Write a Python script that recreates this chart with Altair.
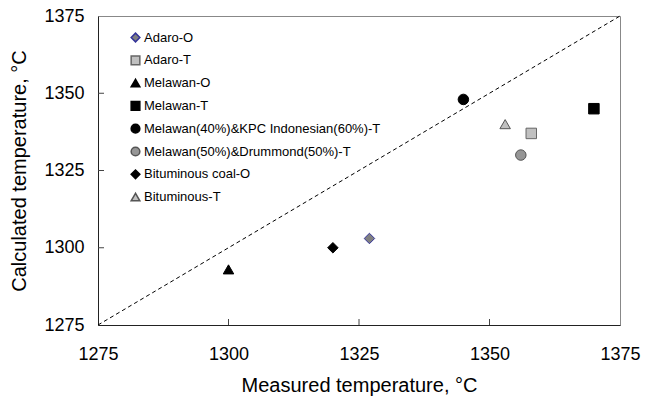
import altair as alt
import pandas as pd

series = [
    "Adaro-O",
    "Adaro-T",
    "Melawan-O",
    "Melawan-T",
    "Melawan(40%)&KPC Indonesian(60%)-T",
    "Melawan(50%)&Drummond(50%)-T",
    "Bituminous coal-O",
    "Bituminous-T",
]
measured = [1327, 1358, 1300, 1370, 1345, 1356, 1320, 1353]
calculated = [1303, 1337, 1293, 1345, 1348, 1330, 1300, 1340]

shapes = ["diamond", "square", "triangle-up", "square", "circle", "circle", "diamond", "triangle-up"]
fills = ["#808080", "#C0C0C0", "#000000", "#000000", "#000000", "#969696", "#000000", "#C0C0C0"]
strokes = ["#333399", "#666666", "#000000", "#000000", "#000000", "#555555", "#000000", "#555555"]

ticks = [1275, 1300, 1325, 1350, 1375]
inner_ticks = [1300, 1325, 1350]
diag = [1275, 1375]

df = pd.DataFrame({"series": series, "measured": measured, "calculated": calculated})
diag_df = pd.DataFrame({"x": diag, "y": diag})
tick_df = pd.DataFrame({"v": inner_ticks})

W, H = 522, 309
FONT = "Liberation Sans"

xscale = alt.Scale(domain=[1275, 1375], nice=False, zero=False)
yscale = alt.Scale(domain=[1275, 1375], nice=False, zero=False)

xaxis = alt.Axis(values=ticks, format="d", title="Measured temperature, °C", tickSize=0,
                 labelPadding=20, titlePadding=12, grid=False, labelFlush=False,
                 labelFont=FONT, labelFontSize=18, titleFont=FONT, titleFontSize=20,
                 titleFontWeight="normal", labelColor="#000", titleColor="#000",
                 domainColor="#222")
yaxis = alt.Axis(values=ticks, format="d", title="Calculated temperature, °C", tickSize=0,
                 labelPadding=14, titlePadding=14, grid=False, labelFlush=False,
                 labelFont=FONT, labelFontSize=18, titleFont=FONT, titleFontSize=20,
                 titleFontWeight="normal", labelColor="#000", titleColor="#000",
                 domainColor="#222")

line = alt.Chart(diag_df).mark_line(color="#000", strokeWidth=1, strokeDash=[4, 3]).encode(
    x=alt.X("x:Q", scale=xscale, axis=xaxis),
    y=alt.Y("y:Q", scale=yscale, axis=yaxis),
)

xt = alt.Chart(tick_df).mark_rule(color="#444", strokeWidth=1).encode(
    x=alt.X("v:Q", scale=xscale),
    y=alt.value(H),
    y2=alt.value(H - 6),
)
yt = alt.Chart(tick_df).mark_rule(color="#444", strokeWidth=1).encode(
    y=alt.Y("v:Q", scale=yscale),
    x=alt.value(0),
    x2=alt.value(6),
)

legend = alt.Legend(
    title=None, orient="none", legendX=31, legendY=15,
    labelFont=FONT, labelFontSize=13, labelColor="#000",
    symbolSize=75, rowPadding=7.8, labelOffset=2, labelLimit=400,
)

points = alt.Chart(df).mark_point(filled=True, size=110, opacity=1, strokeWidth=1).encode(
    x=alt.X("measured:Q", scale=xscale),
    y=alt.Y("calculated:Q", scale=yscale),
    shape=alt.Shape("series:N", scale=alt.Scale(domain=series, range=shapes), legend=legend, sort=series),
    fill=alt.Fill("series:N", scale=alt.Scale(domain=series, range=fills), legend=legend, sort=series),
    stroke=alt.Stroke("series:N", scale=alt.Scale(domain=series, range=strokes), legend=legend, sort=series),
)

chart = alt.layer(line, xt, yt, points).properties(
    width=W, height=H,
    autosize=alt.AutoSizeParams(type="none"),
    padding={"left": 98, "top": 16, "right": 32, "bottom": 71},
    background="white",
).configure_view(stroke="#888", strokeWidth=1)

chart.save("out.html", embed_options={"renderer": "svg", "actions": False})
